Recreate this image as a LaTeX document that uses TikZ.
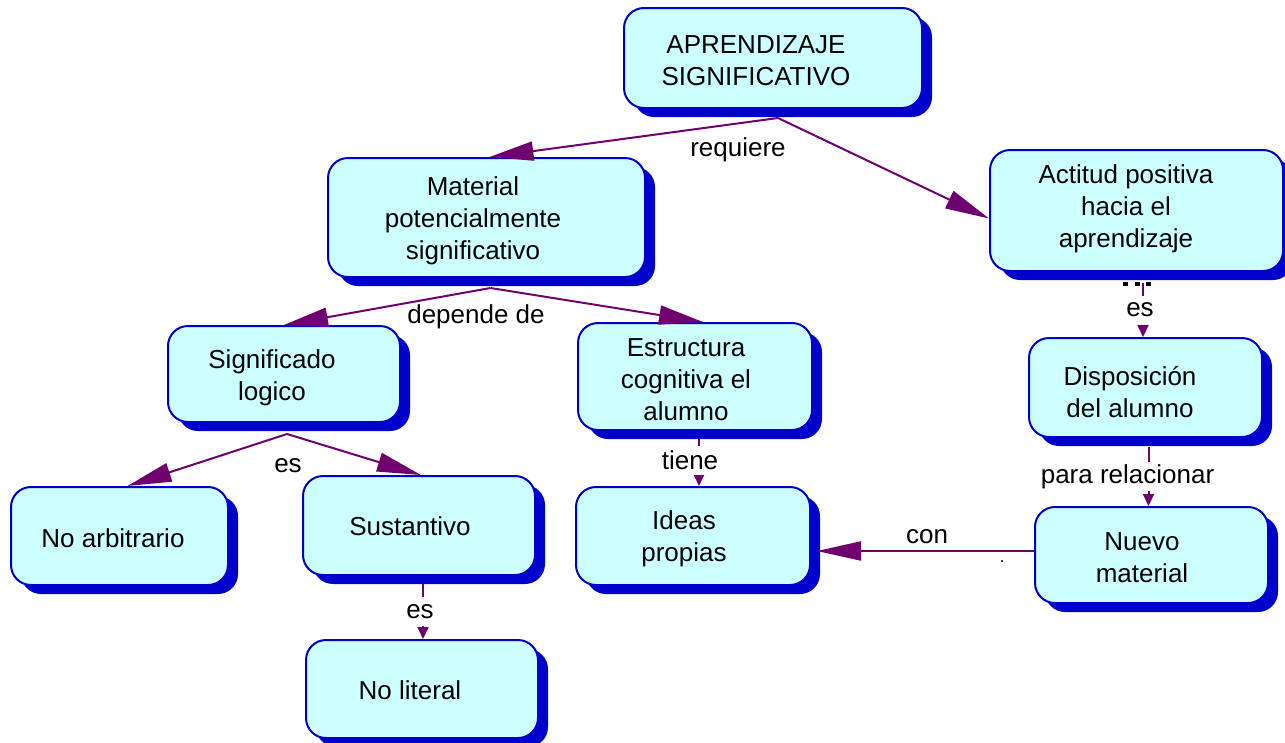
\documentclass[tikz,border=0pt]{standalone}
\usepackage{fontspec}
\setmainfont{Liberation Sans}
\usetikzlibrary{arrows.meta,shadows,calc}
\definecolor{boxfill}{RGB}{204,255,255}
\definecolor{boxblue}{RGB}{0,0,204}
\definecolor{linkpurple}{RGB}{112,0,112}
\begin{document}
\begin{tikzpicture}[x=1pt,y=-1pt,
  concept/.style={draw=boxblue, line width=2pt, fill=boxfill, rounded corners=20pt, inner sep=0pt,
     drop shadow={shadow xshift=10pt, shadow yshift=-9pt, fill=boxblue, opacity=1}},
  txt/.style={font=\fontsize{26}{32}\selectfont, align=center, inner sep=0pt},
  lbl/.style={font=\fontsize{26}{32}\selectfont, inner sep=1pt},
  onlbl/.style={lbl, fill=white, minimum height=29pt, inner sep=0pt},
  link/.style={draw=linkpurple, line width=2pt},
  bighead/.style={-{Triangle[length=44pt,width=19pt]}},
  smallhead/.style={-{Triangle[length=12pt,width=11pt]}},
]
\useasboundingbox (0,0) rectangle (1285,742);
\clip (0,0) rectangle (1285,742);

% concept boxes
\node[concept, minimum width=298pt, minimum height=100pt] (A)   at (773,58)     {};
\node[concept, minimum width=317pt, minimum height=119pt] (M)   at (486.5,217.5) {};
\node[concept, minimum width=293pt, minimum height=121pt] (Act) at (1136.5,210.5) {};
\node[concept, minimum width=232pt, minimum height=96pt]  (SL)  at (284,374)    {};
\node[concept, minimum width=234pt, minimum height=107pt] (EC)  at (695,376.5)  {};
\node[concept, minimum width=233pt, minimum height=99pt]  (D)   at (1145.5,387.5) {};
\node[concept, minimum width=217pt, minimum height=98pt]  (NA)  at (119.5,536)  {};
\node[concept, minimum width=232pt, minimum height=99pt]  (S)   at (419,525.5)  {};
\node[concept, minimum width=234pt, minimum height=98pt]  (IP)  at (693,536)    {};
\node[concept, minimum width=233pt, minimum height=96pt]  (NM)  at (1151.5,555) {};
\node[concept, minimum width=232pt, minimum height=98pt]  (NL)  at (422,689)    {};

% box texts
\node[txt] at (756,61)   {APRENDIZAJE\\SIGNIFICATIVO};
\node[txt] at (473,221)  {Material\\potencialmente\\significativo};
\node[txt] at (1126,209) {Actitud positiva\\hacia el\\aprendizaje};
\node[txt] at (272,378)  {Significado\\logico};
\node[txt] at (686,380)  {Estructura\\cognitiva el\\alumno};
\node[txt] at (1130,392) {Disposición\\del alumno};
\node[txt] at (113,538)  {No arbitrario};
\node[txt] at (410,526)  {Sustantivo};
\node[txt] at (684,539)  {Ideas\\propias};
\node[txt] at (1142,558) {Nuevo\\material};
\node[txt] at (410,690)  {No literal};

% connectors
\coordinate (a0) at ($(A.south)+(5,9)$);
\draw[link,bighead] (a0) -- ($(M.north)+(3,0)$);
\draw[link,bighead] (a0) -- ($(Act.west)+(0,8)$);
\node[lbl] at (738,150) {requiere};

\coordinate (m0) at ($(M.south)+(4,10)$);
\draw[link,bighead] (m0) -- (SL.north);
\draw[link,bighead] (m0) -- ($(EC.north)+(8,0)$);
\node[lbl] at (476,317) {depende de};

\coordinate (l0) at ($(SL.south)+(3,11)$);
\draw[link,bighead] (l0) -- ($(NA.north)+(8,0)$);
\draw[link,bighead] (l0) -- ($(S.north)+(2,0)$);
\node[lbl] at (288,466) {es};

\coordinate (a1) at ($(Act.south)+(6.5,11)$);
\draw[link,smallhead] (a1) -- (a1 |- D.north) node[onlbl, midway, xshift=-3pt] {es};
\fill (1123,282) rectangle (1128,286);
\fill (1135,282) rectangle (1140,286);
\fill (1146,282) rectangle (1151,286);

\coordinate (e1) at ($(EC.south)+(4,8)$);
\draw[link,smallhead] (e1) -- (e1 |- IP.north) node[onlbl, pos=0.45, xshift=-9pt] {tiene};

\coordinate (s1) at ($(S.south)+(4,8)$);
\draw[link,smallhead] (s1) -- (s1 |- NL.north) node[onlbl, midway, xshift=-3pt] {es};

\coordinate (d1) at ($(D.south)+(3,9)$);
\draw[link,smallhead] (d1) -- (d1 |- NM.north) node[onlbl, midway, xshift=-21pt] {para relacionar};

\coordinate (n1) at ($(NM.west)+(0,-4)$);
\draw[link,bighead] (n1) -- ($(n1 -| IP.east)+(6,0)$);
\node[lbl] at (927,537) {con};
\fill (1002,561) circle (1.2pt);
\end{tikzpicture}
\end{document}
